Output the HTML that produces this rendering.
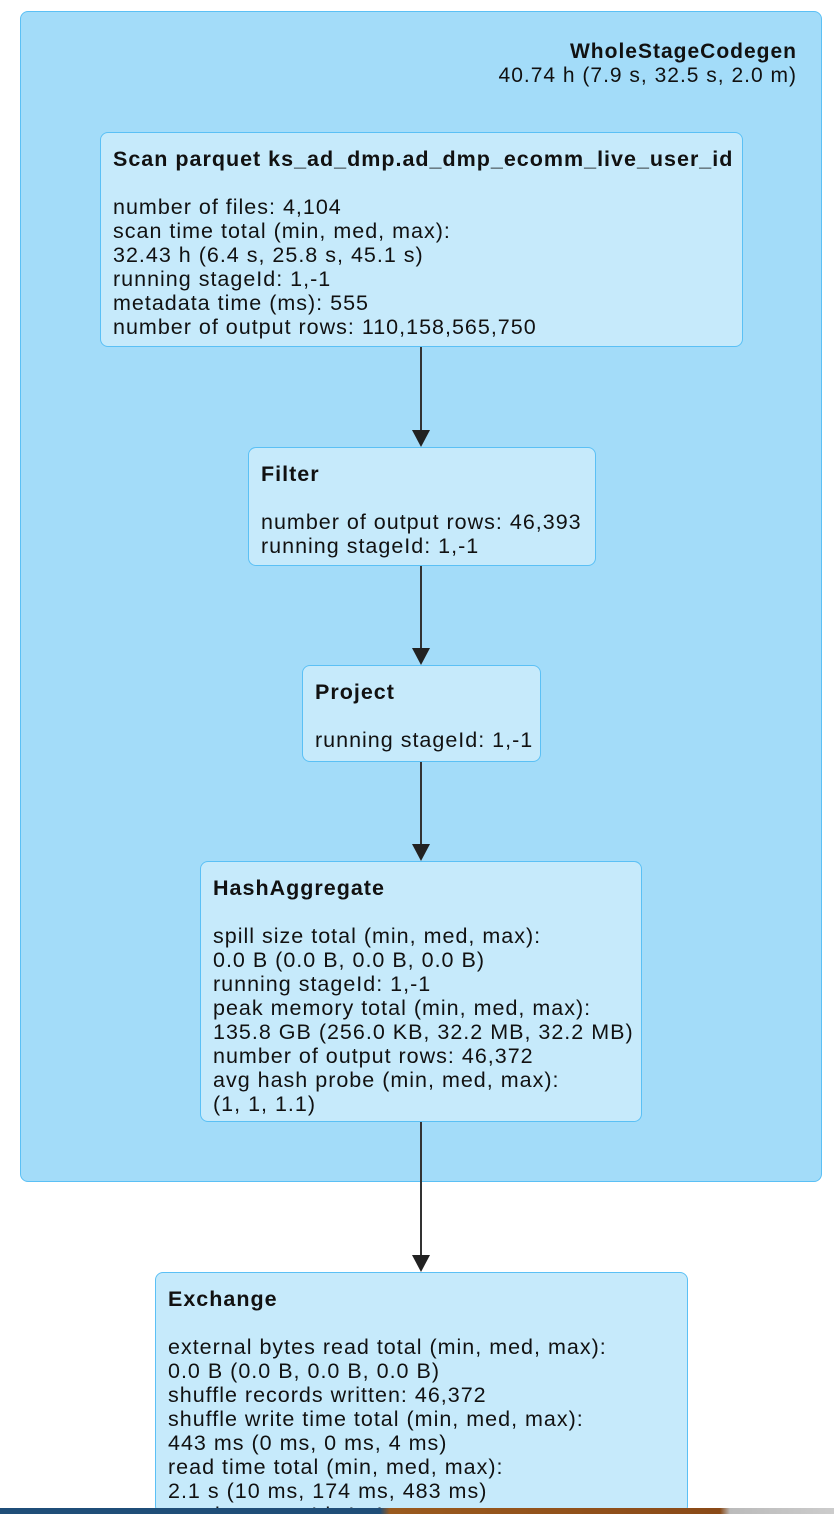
<!DOCTYPE html>
<html style="height:1514px;overflow:hidden;"><head><meta charset="utf-8"><style>
html,body{margin:0;padding:0;background:#fff;}
body{width:834px;height:1514px;position:relative;overflow:hidden;font-family:"Liberation Sans",Arial,sans-serif;color:#111;}
.cl{position:absolute;left:20px;top:11px;width:800px;height:1169px;background:#a3dcf9;border:1.5px solid #5bc0f5;border-radius:8px;}
.cltxt{position:absolute;right:37px;top:40px;text-align:right;font-size:21px;line-height:24px;letter-spacing:1px;}
.n{position:absolute;background:#c6eafb;border:1.5px solid #5bc0f5;border-radius:8px;box-sizing:border-box;padding:14px 0 0 12px;font-size:21.5px;line-height:24px;letter-spacing:1px;white-space:nowrap;overflow:hidden;}
b{font-weight:bold;letter-spacing:1px;}
.v{position:absolute;left:420px;width:2px;background:#333;}
.ah{position:absolute;left:412px;width:0;height:0;border-left:9px solid transparent;border-right:9px solid transparent;border-top:17px solid #222;}
.bar{position:absolute;left:0;top:1508px;width:834px;height:6px;background:linear-gradient(90deg,#1f4e78 0,#1f4e78 380px,#9a5a1e 390px,#8a4a18 720px,#bbb 730px,#ccc 834px);}
</style></head><body>
<div class="cl"></div>
<div class="cltxt"><b>WholeStageCodegen</b><br>40.74 h (7.9 s, 32.5 s, 2.0 m)</div>

<div class="n" style="left:100px;top:132px;width:643px;height:215px;"><b>Scan parquet ks_ad_dmp.ad_dmp_ecomm_live_user_id</b><br><br>number of files: 4,104<br>scan time total (min, med, max):<br>32.43 h (6.4 s, 25.8 s, 45.1 s)<br>running stageId: 1,-1<br>metadata time (ms): 555<br>number of output rows: 110,158,565,750</div>

<div class="v" style="top:347px;height:85px;"></div><div class="ah" style="top:430px;"></div>

<div class="n" style="left:248px;top:447px;width:348px;height:119px;"><b>Filter</b><br><br>number of output rows: 46,393<br>running stageId: 1,-1</div>

<div class="v" style="top:566px;height:84px;"></div><div class="ah" style="top:648px;"></div>

<div class="n" style="left:302px;top:665px;width:239px;height:97px;"><b>Project</b><br><br>running stageId: 1,-1</div>

<div class="v" style="top:762px;height:84px;"></div><div class="ah" style="top:844px;"></div>

<div class="n" style="left:200px;top:861px;width:442px;height:261px;"><b>HashAggregate</b><br><br>spill size total (min, med, max):<br>0.0 B (0.0 B, 0.0 B, 0.0 B)<br>running stageId: 1,-1<br>peak memory total (min, med, max):<br>135.8 GB (256.0 KB, 32.2 MB, 32.2 MB)<br>number of output rows: 46,372<br>avg hash probe (min, med, max):<br>(1, 1, 1.1)</div>

<div class="v" style="top:1122px;height:135px;"></div><div class="ah" style="top:1255px;"></div>

<div class="n" style="left:155px;top:1272px;width:533px;height:242px;"><b>Exchange</b><br><br>external bytes read total (min, med, max):<br>0.0 B (0.0 B, 0.0 B, 0.0 B)<br>shuffle records written: 46,372<br>shuffle write time total (min, med, max):<br>443 ms (0 ms, 0 ms, 4 ms)<br>read time total (min, med, max):<br>2.1 s (10 ms, 174 ms, 483 ms)<br>running stageId: 1,-1</div>

<div class="bar"></div>
</body></html>
